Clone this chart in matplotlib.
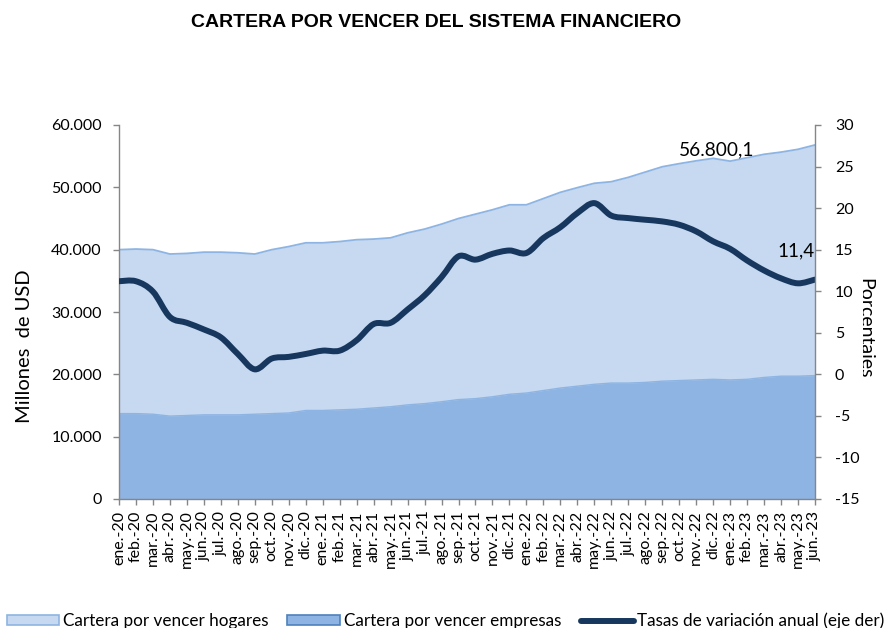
import matplotlib
matplotlib.use("Agg")
import matplotlib.pyplot as plt
import numpy as np
from matplotlib.path import Path
from matplotlib.patches import PathPatch, Patch
from matplotlib.lines import Line2D
from matplotlib.ticker import FuncFormatter, FixedLocator
from matplotlib.transforms import Bbox, TransformedBbox

plt.rcParams['font.family'] = ['Lato', 'DejaVu Sans']

# meses ene.-20 ... jun.-23
meses = ["ene.", "feb.", "mar.", "abr.", "may.", "jun.",
         "jul.", "ago.", "sep.", "oct.", "nov.", "dic."]
periodos = [f"{m}-{a}" for a in ["20", "21", "22", "23"] for m in meses][:42]

# millones de USD
hogares = [40000, 40100, 40000, 39300, 39400, 39600, 39600, 39500, 39300, 40000,
           40500, 41100, 41100, 41300, 41600, 41700, 41900, 42700, 43300, 44100,
           45000, 45700, 46400, 47200, 47200, 48200, 49200, 49950, 50650, 50900,
           51600, 52450, 53300, 53800, 54250, 54650, 54200, 54750, 55300, 55650,
           56100, 56800.1]
empresas = [13700, 13700, 13600, 13300, 13400, 13500, 13500, 13500, 13600, 13700,
            13800, 14200, 14200, 14300, 14400, 14600, 14800, 15100, 15300, 15600,
            15950, 16100, 16400, 16800, 17000, 17400, 17800, 18100, 18400, 18600,
            18600, 18700, 18900, 19000, 19100, 19200, 19100, 19200, 19500, 19700,
            19700, 19800]
# tasa de variacion anual, %
tasa = [11.2, 11.2, 9.95, 6.9, 6.2, 5.4, 4.45, 2.45, 0.6, 1.9,
        2.1, 2.45, 2.85, 2.85, 4.1, 6.05, 6.2, 7.8, 9.5, 11.7,
        14.2, 13.8, 14.5, 14.9, 14.6, 16.4, 17.7, 19.4, 20.6, 19.1,
        18.8, 18.6, 18.4, 18.0, 17.2, 16.0, 15.1, 13.7, 12.5, 11.55,
        10.95, 11.4]

c_hog = '#C6D9F1'
c_hog_borde = '#8DB4E2'
c_emp = '#8EB4E3'
c_emp_borde = '#4F81BD'
c_tasa = '#17375E'
gris = '#868686'

x = np.arange(len(periodos))

fig = plt.figure(figsize=(8.91, 6.28), dpi=100)
ax = fig.add_axes([119/891, 1-499/628, (815-119)/891, (499-125)/628])
ax2 = ax.twinx()

ax.fill_between(x, hogares, color=c_hog, lw=0)
ax.plot(x, hogares, color=c_hog_borde, lw=1.3)
ax.fill_between(x, empresas, color=c_emp, lw=0)
ax.plot(x, empresas, color=c_hog_borde, lw=1.0)

# linea suavizada (bezier tipo catmull-rom)
pts = np.column_stack([x, tasa]).astype(float)
verts = [pts[0]]
codes = [Path.MOVETO]
for i in range(len(pts) - 1):
    p0 = pts[max(i - 1, 0)]
    p1 = pts[i]
    p2 = pts[i + 1]
    p3 = pts[min(i + 2, len(pts) - 1)]
    verts += [p1 + (p2 - p0) / 6, p2 - (p3 - p1) / 6, p2]
    codes += [Path.CURVE4] * 3
ax2.add_patch(PathPatch(Path(verts, codes), fill=False, edgecolor=c_tasa,
                        lw=4.3, capstyle='round', joinstyle='round'))

ax.set_xlim(0, len(periodos) - 1)
ax.set_ylim(0, 60000)
ax2.set_ylim(-15, 30)
ax.set_yticks(np.arange(0, 60001, 10000))
ax2.set_yticks(np.arange(-15, 31, 5))
ax.yaxis.set_major_formatter(FuncFormatter(lambda v, p: f"{v:,.0f}".replace(",", ".")))
ax2.yaxis.set_major_formatter(FuncFormatter(lambda v, p: f"{int(v)}"))
ax.xaxis.set_major_locator(FixedLocator(x))
ax.set_xticklabels(periodos, rotation=90)

for a in (ax, ax2):
    for s in a.spines.values():
        s.set_color(gris)
        s.set_linewidth(1.0)
    a.spines['top'].set_visible(False)
ax.spines['right'].set_visible(False)
ax2.spines['left'].set_visible(False)
ax2.spines['bottom'].set_visible(False)

ax.tick_params(axis='y', direction='out', length=4.3, width=1, color=gris,
               labelsize=11.5, pad=8)
ax.tick_params(axis='x', direction='out', length=4.3, width=1, color=gris,
               labelsize=11.5, pad=4)
ax2.tick_params(axis='y', direction='out', length=4.3, width=1, color=gris,
                labelsize=11.5, pad=10)

ax.annotate("56.800,1", xy=(x[-1], hogares[-1]), xytext=(-70.5, -3.6),
            textcoords='offset points', ha='center', va='center', fontsize=13.8)
ax2.annotate("11,4", xy=(x[-1], tasa[-1]), xytext=(-13.7, 20.6),
             textcoords='offset points', ha='center', va='center', fontsize=13.5)

fig.text(436/891, 1-27/628, "CARTERA POR VENCER DEL SISTEMA FINANCIERO",
         ha='center', va='baseline', fontsize=14, fontweight='bold',
         family='Liberation Sans')
fig.text(25/891, 1-346/628, "Millones  de USD", rotation=90,
         ha='center', va='center', fontsize=14.5)
# titulo del eje derecho, recortado por el borde
t = fig.text(856/891, 1-278/628, "Porcentajes", rotation=270,
             ha='left', va='top', fontsize=14)
t.set_clip_box(TransformedBbox(Bbox.from_extents(863/891, 1-378/628, 1, 1),
                               fig.transFigure))
t.set_clip_on(True)

# leyenda: una entrada por serie, cada una en su posicion
entradas = [
    (Patch(facecolor=c_hog, edgecolor=c_hog_borde, lw=1.2),
     "Cartera por vencer hogares", 7, 3.04, 0.23),
    (Patch(facecolor=c_emp, edgecolor=c_emp_borde, lw=1.2),
     "Cartera por vencer empresas", 287, 3.1, 0.23),
    (Line2D([], [], color=c_tasa, lw=4.3, solid_capstyle='round'),
     "Tasas de variación anual (eje der)", 581, 3.1, 0.2),
]
for h, lab, x0, hl, tp in entradas:
    fig.legend([h], [lab], loc='lower left', bbox_to_anchor=(x0/891, -1/628),
               frameon=False, fontsize=12.3, borderpad=0, borderaxespad=0,
               handlelength=hl, handleheight=0.48, handletextpad=tp)

fig.savefig("out.png", dpi=100)
